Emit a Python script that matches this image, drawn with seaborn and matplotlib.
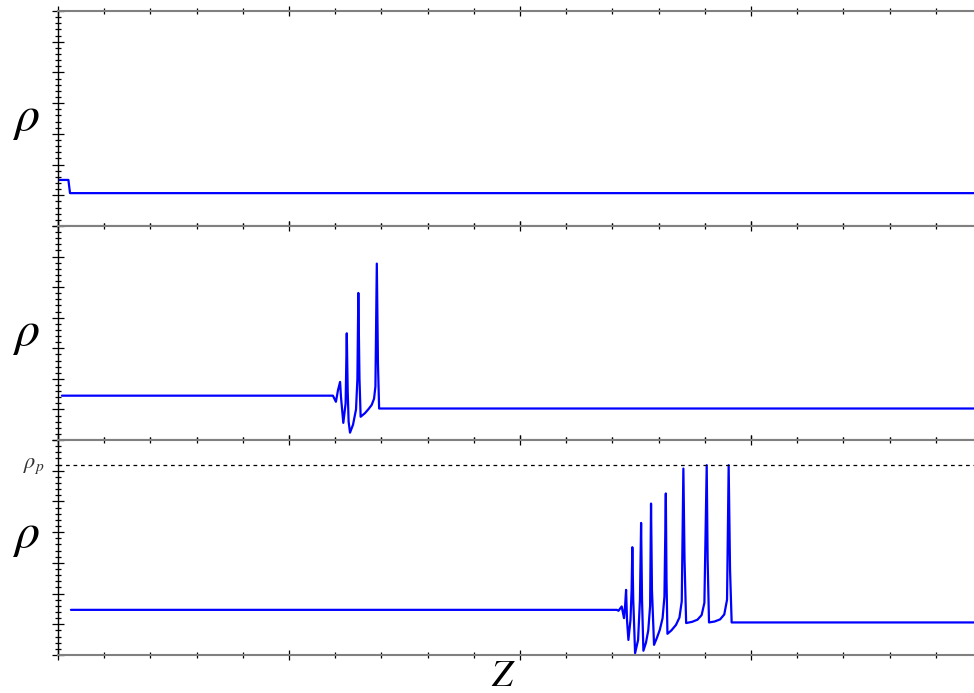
import matplotlib
matplotlib.use("Agg")
import matplotlib.pyplot as plt
import seaborn as sns
import pandas as pd
from matplotlib.ticker import MultipleLocator

# ---------------- data ----------------
z1 = [0.0, 0.045, 0.052, 3.965]
rho1 = [1.50, 1.50, 1.07, 1.07]

z2 = [0.017, 1.190, 1.203, 1.212, 1.221, 1.225, 1.235, 1.245, 1.250, 1.254,
      1.258, 1.264, 1.277, 1.290, 1.296, 1.300, 1.305, 1.310, 1.329, 1.345,
      1.358, 1.368, 1.374, 1.380, 1.385, 1.390, 3.965]
rho2 = [1.45, 1.45, 1.25, 1.63, 1.90, 1.40, 0.56, 1.20, 3.49, 1.60,
        0.60, 0.24, 0.50, 1.00, 2.00, 4.81, 2.00, 0.76, 0.88, 1.02,
        1.15, 1.35, 1.75, 5.77, 2.50, 1.03, 1.03]

z3 = [0.056, 2.419, 2.426, 2.440, 2.450, 2.455, 2.459, 2.463, 2.469, 2.478,
      2.483, 2.486, 2.490, 2.498, 2.511, 2.519, 2.524, 2.528, 2.534, 2.545,
      2.555, 2.563, 2.567, 2.571, 2.580, 2.592, 2.605, 2.617, 2.625, 2.631,
      2.634, 2.638, 2.655, 2.675, 2.690, 2.700, 2.707, 2.712, 2.719, 2.745,
      2.768, 2.786, 2.798, 2.808, 2.812, 2.818, 2.842, 2.866, 2.884, 2.896,
      2.903, 2.909, 2.916, 3.965]
rho3 = [1.47, 1.47, 1.44, 1.58, 1.20, 1.63, 2.12, 1.14, 0.49, 1.14,
        2.12, 3.51, 1.80, 0.06, 0.49, 1.80, 4.30, 1.80, 0.14, 0.40,
        0.80, 1.60, 4.93, 2.12, 0.33, 0.55, 0.82, 1.20, 1.90, 5.26,
        2.45, 0.69, 0.80, 0.98, 1.22, 1.75, 6.07, 3.10, 1.04, 1.08,
        1.15, 1.30, 1.70, 6.18, 3.10, 1.06, 1.09, 1.16, 1.32, 1.80,
        6.18, 2.78, 1.06, 1.06]

rho_p = 6.18
z_max = 3.965
rho_max = 7.0

# ---------------- figure ----------------
sns.set_theme(style="white")
plt.rcParams["mathtext.fontset"] = "stix"
plt.rcParams["font.family"] = ["DejaVu Sans"]

W, H = 974, 693
fig = plt.figure(figsize=(W / 100, H / 100), dpi=100)

left = 58 / W
width = 1.0 - left
edges = [11, 226, 440, 655]
series = [(z1, rho1), (z2, rho2), (z3, rho3)]
axes = []
for i, (zz, rr) in enumerate(series):
    top = 1 - edges[i] / H
    bot = 1 - edges[i + 1] / H
    ax = fig.add_axes([left, bot, width, top - bot])
    df = pd.DataFrame({"z": zz, "rho": rr})
    sns.lineplot(data=df, x="z", y="rho", sort=False, estimator=None,
                 color="#0000ff", lw=1.6, ax=ax)
    ax.set_xlim(0, z_max)
    ax.set_ylim(0, rho_max)
    ax.set_xlabel("")
    ax.set_ylabel("")
    ax.xaxis.set_major_locator(MultipleLocator(1))
    ax.xaxis.set_minor_locator(MultipleLocator(0.2))
    ax.yaxis.set_major_locator(MultipleLocator(1))
    ax.yaxis.set_minor_locator(MultipleLocator(0.2))
    ax.tick_params(axis="x", which="both", direction="inout", top=True,
                   bottom=True, labelbottom=False, labeltop=False,
                   color="black", width=0.9)
    ax.tick_params(axis="x", which="major", length=7)
    ax.tick_params(axis="x", which="minor", length=4)
    ax.tick_params(axis="y", which="both", direction="inout", left=True,
                   right=False, labelleft=False, color="black", width=0.9)
    ax.tick_params(axis="y", which="major", length=8)
    ax.tick_params(axis="y", which="minor", length=5)
    for s in ("top", "bottom"):
        ax.spines[s].set_color("#808080")
        ax.spines[s].set_linewidth(1.5)
    ax.spines["left"].set_color("black")
    ax.spines["left"].set_linewidth(1.0)
    ax.spines["right"].set_visible(False)
    ax.set_facecolor("white")
    axes.append(ax)

axes[2].axhline(rho_p, color="black", lw=0.9, ls=(0, (3, 3)))

# labels
for yc in (118, 333, 535):
    fig.text(26 / W, 1 - yc / H, r"$\rho$", fontsize=36, ha="center",
             va="center", color="black")
fig.text(34 / W, 1 - 466 / H, r"$\rho_p$", fontsize=16, ha="center",
         va="center", color="#333333")
fig.text(503 / W, 1 - 686 / H, r"$Z$", fontsize=27, ha="center",
         va="baseline", color="black")

fig.savefig("out.png", dpi=100, facecolor="white")
